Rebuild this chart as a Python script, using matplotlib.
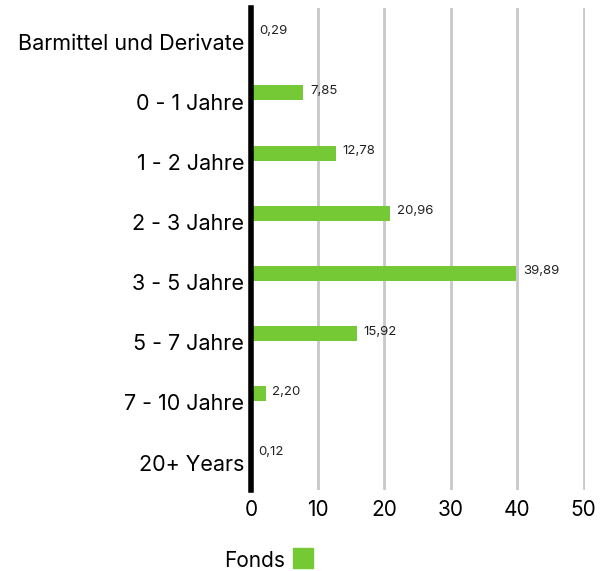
import numpy as np
import matplotlib.pyplot as plt
import matplotlib.transforms as mtransforms
from matplotlib.patches import Rectangle

# Laufzeitenverteilung
categories = ["Barmittel und Derivate", "0 - 1 Jahre", "1 - 2 Jahre", "2 - 3 Jahre",
              "3 - 5 Jahre", "5 - 7 Jahre", "7 - 10 Jahre", "20+ Years"]
values = [0.29, 7.85, 12.78, 20.96, 39.89, 15.92, 2.20, 0.12]
series_name = "Fonds"
xticks = [0, 10, 20, 30, 40, 50]

green = '#74C934'
plt.rcParams['font.family'] = ['Inter', 'DejaVu Sans']

fig = plt.figure(figsize=(6.11, 5.71), dpi=100)
ax = fig.add_axes([251/611, 1 - 490/571, 334/611, 482/571])

y = np.arange(len(categories))
ax.barh(y, values, height=0.25, color=green, zorder=3)

for yi, v in zip(y, values):
    ax.text(v + 1.0, yi - 0.03, f"{v:.2f}".replace('.', ','), fontsize=9.5,
            va='center', ha='left', color='#222222')

ax.set_xlim(0, 50.2)
ax.set_ylim(7.607, -0.413)
ax.set_yticks(y)
ax.set_yticklabels(categories, fontsize=15.5)
ax.set_xticks(xticks)
ax.set_xticklabels([str(t) for t in xticks], fontsize=15)
ax.tick_params(axis='y', length=0, pad=5)
ax.tick_params(axis='x', length=0, pad=7)

# category labels sit a bit below the bars
off = mtransforms.ScaledTranslation(0, -9/100, fig.dpi_scale_trans)
for lab in ax.get_yticklabels():
    lab.set_transform(lab.get_transform() + off)

ax.grid(axis='x', color='#c8c8c8', linewidth=2, zorder=0)
for s in ['top', 'right', 'bottom']:
    ax.spines[s].set_visible(False)
ax.spines['left'].set_linewidth(4)
ax.spines['left'].set_color('black')
ax.spines['left'].set_zorder(4)

# legend
fig.text(285/611, 1 - 561/571, series_name, fontsize=15, ha='right', va='center')
fig.patches.append(Rectangle((293/611, 1 - 568/571), 20/611, 20/571,
                             transform=fig.transFigure, color=green))

fig.savefig('out.png', dpi=100)
